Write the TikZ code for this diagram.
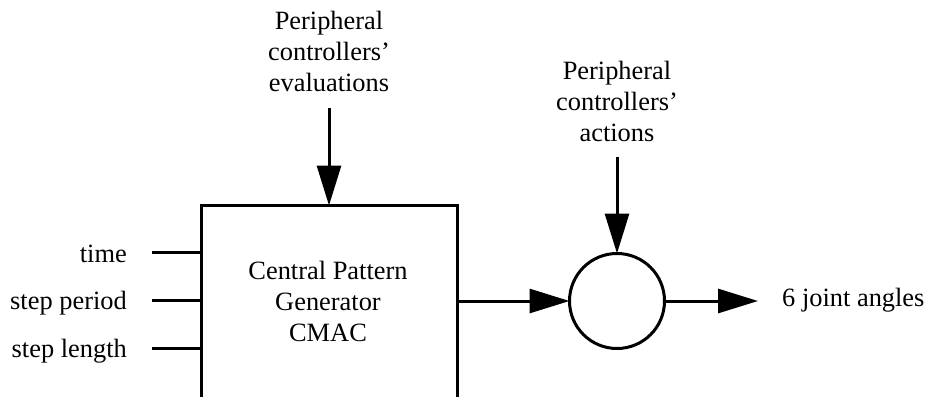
\documentclass[tikz,border=0pt]{standalone}
\usepackage{fontspec}
\setmainfont{Liberation Serif}
\usetikzlibrary{arrows.meta}
\begin{document}
\begin{tikzpicture}[x=1pt,y=-1pt,
  wire/.style={line width=3pt},
  arr/.style={wire,-{Triangle[length=40pt,width=24pt]}},
  lbl/.style={font=\fontsize{26.4}{31}\selectfont,inner sep=0pt,align=center},
  block/.style={draw,line width=3pt,inner sep=0pt,outer sep=0pt}]
  \fill[white] (0,0) rectangle (928,396);
  \useasboundingbox (0,0) rectangle (928,396);
  \clip (0,0) rectangle (928,396);

  % pattern generator block (runs past the lower edge)
  \node[block,minimum width=256pt,minimum height=300pt,anchor=north] (cpg) at (329,205.5) {};
  % base anchor of a multi-line node sits on its last line
  \node[lbl,anchor=base] (cpgtext) at (328,341) {Central Pattern\\Generator\\CMAC};

  % summing junction
  \node[block,circle,minimum size=95pt] (sum) at (617,301) {};

  % inputs on the left
  \coordinate (in1) at (152,252.5);
  \coordinate (in2) at (152,300.5);
  \coordinate (in3) at (152,348.5);
  \draw[wire] (in1) -- (in1 -| cpg.west);
  \draw[wire] (in2) -- (in2 -| cpg.west);
  \draw[wire] (in3) -- (in3 -| cpg.west);
  \node[lbl,anchor=base east] (ltime) at (127,262) {time};
  \node[lbl,anchor=base east] (lperiod) at (127,309.5) {step period};
  \node[lbl,anchor=base east] (llength) at (127,357.5) {step length};

  % evaluations into the block
  \node[lbl,anchor=base] (eval) at (329,91) {Peripheral\\controllers’\\evaluations};
  \coordinate (evtop) at (329,108);
  \draw[arr] (evtop) -- (cpg.north);

  % actions into the junction
  \node[lbl,anchor=base] (act) at (617,141) {Peripheral\\controllers’\\actions};
  \coordinate (acttop) at (617,157);
  \draw[arr] (acttop) -- (sum.north);

  % block output to junction, junction output
  \draw[arr] (cpg.east |- sum.west) -- (sum.west);
  \coordinate (outend) at (758,301);
  \draw[arr] (sum.east) -- (outend);
  \node[lbl,anchor=base west] (out) at (782,306) {6 joint angles};
\end{tikzpicture}
\end{document}
